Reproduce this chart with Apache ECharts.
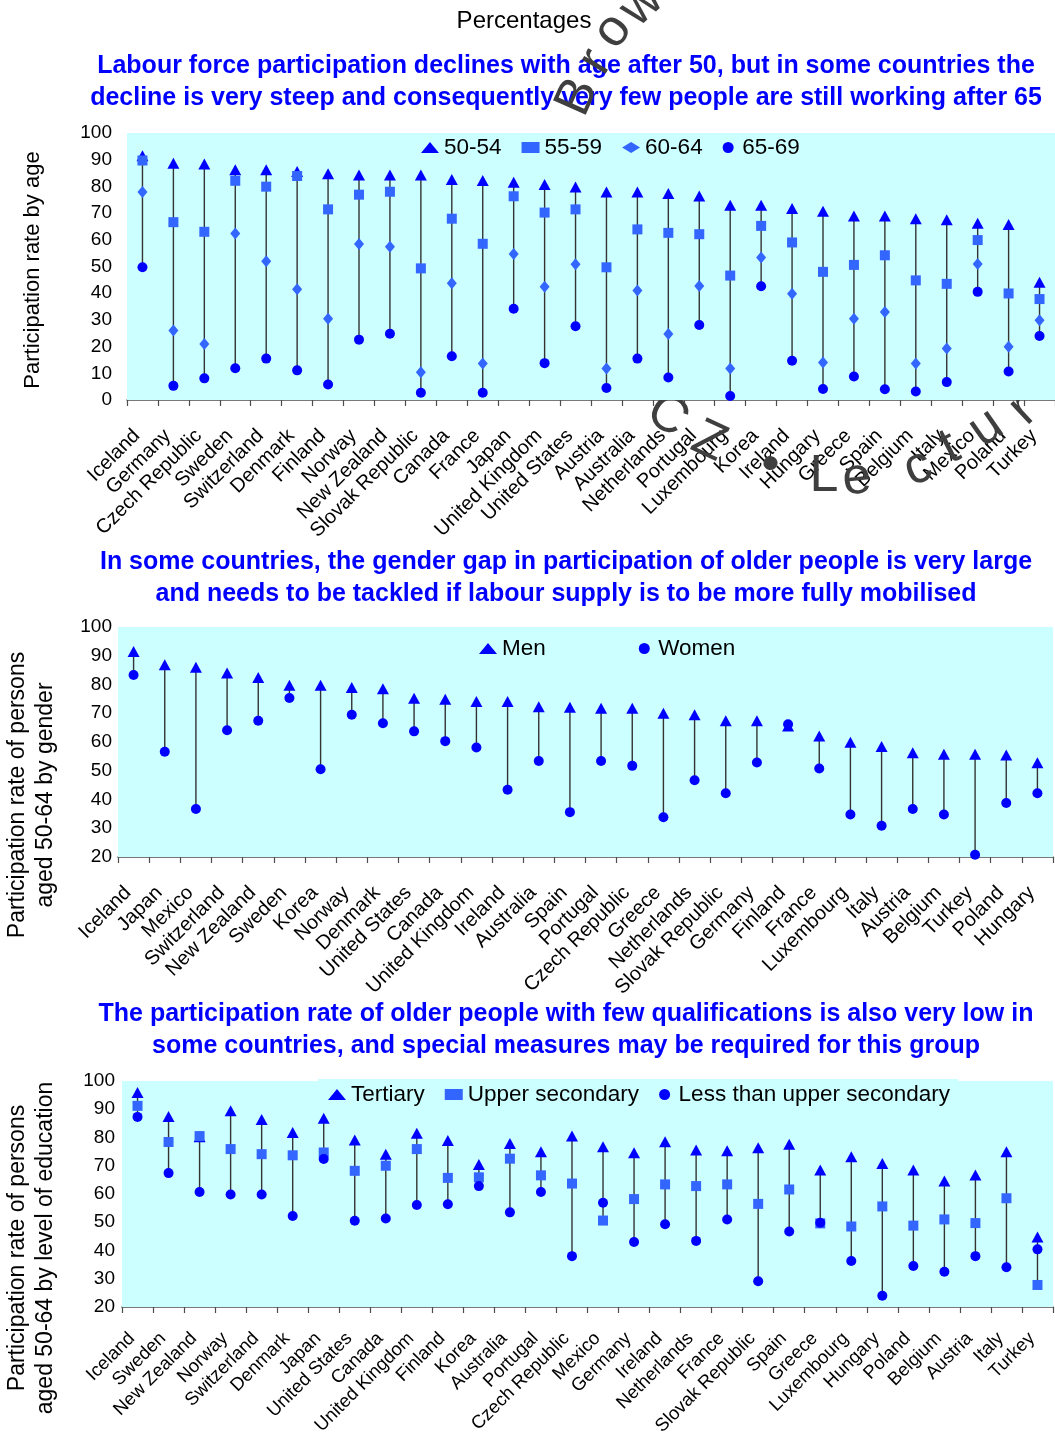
<!DOCTYPE html>
<html><head><meta charset="utf-8">
<script src="https://cdn.jsdelivr.net/npm/echarts@6/dist/echarts.min.js"></script>
<style>html,body{margin:0;padding:0;background:#fff;overflow:hidden}#c{width:1055px;height:1433px}</style>
</head><body><div id="c"></div>
<script>
// ---- Panel 1: participation by age ----
const countries1 = ['Iceland','Germany','Czech Republic','Sweden','Switzerland','Denmark','Finland','Norway','New Zealand','Slovak Republic','Canada','France','Japan','United Kingdom','United States','Austria','Australia','Netherlands','Portugal','Luxembourg','Korea','Ireland','Hungary','Greece','Spain','Belgium','Italy','Mexico','Poland','Turkey'];
const age5054 = [91.5,88.7,88.4,86.2,86.2,85.6,84.7,84.3,84.3,84.3,82.6,82.2,81.6,80.7,79.8,77.9,77.9,77.3,76.4,72.9,72.9,71.7,70.7,68.9,68.9,67.9,67.5,66.2,65.7,44.1];
const age5559 = [89.7,66.6,63.0,82.1,79.9,83.9,71.4,76.9,78.0,49.3,67.9,58.5,76.3,70.2,71.4,49.7,63.9,62.6,62.1,46.6,65.2,59.0,48.0,50.6,54.2,44.8,43.5,59.9,39.9,37.8];
const age6064 = [77.9,26.0,21.0,62.4,52.0,41.5,30.4,58.4,57.4,10.4,43.7,13.7,54.7,42.4,50.8,11.8,41.0,24.7,42.7,11.8,53.4,39.8,14.0,30.4,33.0,13.7,19.3,50.9,19.9,29.9];
const age6569 = [49.7,5.3,8.1,11.9,15.5,11.1,5.8,22.6,24.8,2.7,16.4,2.7,34.2,13.8,27.6,4.5,15.5,8.4,28.1,1.5,42.6,14.7,4.1,8.8,4.0,3.2,6.7,40.5,10.7,24.0];

// ---- Panel 2: participation 50-64 by gender ----
const countries2 = ['Iceland','Japan','Mexico','Switzerland','New Zealand','Sweden','Korea','Norway','Denmark','United States','Canada','United Kingdom','Ireland','Australia','Spain','Portugal','Czech Republic','Greece','Netherlands','Slovak Republic','Germany','Finland','France','Luxembourg','Italy','Austria','Belgium','Turkey','Poland','Hungary'];
const men = [91.5,86.9,86.0,84.0,82.4,79.7,79.7,79.0,78.5,75.2,74.9,74.1,74.1,72.3,72.1,71.7,71.7,70.0,69.5,67.4,67.4,65.6,62.1,59.9,58.4,56.3,55.7,55.7,55.5,52.8];
const women = [83.3,56.6,36.7,64.1,67.4,75.3,50.5,69.5,66.5,63.7,60.3,58.1,43.4,53.4,35.6,53.4,51.7,33.8,46.7,42.2,52.9,66.2,50.8,34.8,30.9,36.7,34.8,20.8,38.8,42.2];

// ---- Panel 3: participation 50-64 by education ----
const countries3 = ['Iceland','Sweden','New Zealand','Norway','Switzerland','Denmark','Japan','United States','Canada','United Kingdom','Finland','Korea','Australia','Portugal','Czech Republic','Mexico','Germany','Ireland','Netherlands','France','Slovak Republic','Spain','Greece','Luxembourg','Hungary','Poland','Belgium','Austria','Italy','Turkey'];
const tertiary = [95.9,87.4,80.3,89.5,86.4,81.8,86.8,79.1,74.1,81.5,78.9,70.4,77.9,75.0,80.5,76.7,74.6,78.5,75.6,75.3,76.4,77.6,68.5,73.2,70.8,68.5,64.6,66.7,75.0,44.8];
const upperSec = [91.2,78.4,80.5,75.9,74.1,73.7,74.7,68.2,70.0,75.9,65.7,65.9,72.5,66.6,63.7,50.6,58.2,63.4,62.8,63.4,56.5,61.6,49.6,48.5,55.6,48.8,51.0,49.7,58.5,27.8];
const lessUpper = [87.3,67.4,60.7,59.8,59.8,52.2,72.4,50.5,51.3,56.1,56.4,62.8,53.5,60.7,38.0,56.9,43.0,49.3,43.4,51.0,29.1,46.7,49.8,36.3,24.0,34.5,32.5,38.0,34.1,40.4];

const FONT = "'Liberation Sans', Arial, sans-serif";
const BLUE = '#0000FF', LBLUE = '#3366FF', BG = '#CCFFFF', WM = '#3f3f3f';

function rangeData(arrs) {
  return arrs[0].map((_, i) => {
    const v = arrs.map(a => a[i]);
    return [i, Math.max(...v), Math.min(...v)];
  });
}
function hiLo(idx, arrs) {
  return {
    type: 'custom', xAxisIndex: idx, yAxisIndex: idx, silent: true, z: 2,
    data: rangeData(arrs), encode: { x: 0, y: [1, 2] },
    renderItem: (params, api) => {
      const p1 = api.coord([api.value(0), api.value(1)]);
      const p2 = api.coord([api.value(0), api.value(2)]);
      return { type: 'line', shape: { x1: p1[0], y1: p1[1], x2: p2[0], y2: p2[1] },
               style: { stroke: '#333333', lineWidth: 1.4 } };
    }
  };
}
function sc(idx, name, data, symbol, size, color) {
  return { type: 'scatter', name, data, xAxisIndex: idx, yAxisIndex: idx, symbol, symbolSize: size,
           itemStyle: { color, opacity: 1 }, z: 3, silent: true };
}
function xAx(idx, cats, fs, margin) {
  return { type: 'category', gridIndex: idx, data: cats, boundaryGap: true, z: 0,
    axisLine: { lineStyle: { color: '#4d4d4d', width: 1.5 } },
    axisTick: { show: true, length: 6, lineStyle: { color: '#4d4d4d', width: 1.2 } },
    axisLabel: { rotate: 45, interval: 0, fontSize: fs, color: '#000', fontFamily: FONT, margin, padding: [0, 8, 0, 0], hideOverlap: false },
    splitLine: { show: false } };
}
function yAx(idx, min, margin) {
  return { type: 'value', gridIndex: idx, min, max: 100, interval: 10, z: 0,
    axisLine: { show: false }, axisTick: { show: false },
    axisLabel: { fontSize: 19, color: '#000', fontFamily: FONT, margin },
    splitLine: { lineStyle: { color: '#ffffff', width: 1.6 } } };
}
function txt(x, y, text, font, color, extra, lh) {
  return Object.assign({ type: 'text', x, y, silent: true, z: 0,
    style: { text, font, fill: color, textAlign: 'center', textVerticalAlign: 'middle', align: 'center', verticalAlign: 'middle', lineHeight: lh || 28 } }, extra || {});
}
// watermark letters (stamp text on a circle), drawn behind the plot areas
function wm(ch, x, y, deg) {
  return { type: 'text', x, y, rotation: deg * Math.PI / 180, silent: true, z: 1,
    style: { text: ch, font: "52px " + FONT, fill: WM, textAlign: 'center', textVerticalAlign: 'middle', align: 'center', verticalAlign: 'middle' } };
}
function grid(left, right, top, height) {
  return { left, right, top, height, show: true, backgroundColor: BG, borderWidth: 0, z: 2,
           containLabel: false, outerBoundsMode: 'none' };
}

const chart = echarts.init(document.getElementById('c'), null, { renderer: 'canvas' });
const legText = { fontSize: 22.5, color: '#000', fontFamily: FONT };
chart.setOption({
  animation: false,
  backgroundColor: '#fff',
  grid: [grid(127, 0, 133, 267), grid(118, 2, 627, 230), grid(122, 2, 1081, 226)],
  xAxis: [xAx(0, countries1, 20, 27), xAx(1, countries2, 20, 27), xAx(2, countries3, 18.5, 23)],
  yAxis: [yAx(0, 0, 15), yAx(1, 20, 6), yAx(2, 20, 7)],
  legend: [
    { data: ['50-54', '55-59', '60-64', '65-69'], left: 413, top: 134, itemGap: 20, itemWidth: 18, itemHeight: 11,
      textStyle: legText, backgroundColor: BG, padding: [2, 8, 3, 8], selectedMode: false },
    { data: ['Men', 'Women'], left: 430, top: 635, itemGap: 93, itemWidth: 18, itemHeight: 11,
      textStyle: legText, backgroundColor: BG, padding: [2, 40, 3, 49], selectedMode: false },
    { data: ['Tertiary', 'Upper secondary', 'Less than upper secondary'], left: 318, top: 1079, itemGap: 20, itemWidth: 18, itemHeight: 11,
      textStyle: legText, backgroundColor: BG, padding: [4, 8, 3, 10], selectedMode: false }
  ],
  series: [
    hiLo(0, [age5054, age5559, age6064, age6569]),
    sc(0, '50-54', age5054, 'triangle', [12, 11], BLUE),
    sc(0, '55-59', age5559, 'rect', 10, LBLUE),
    sc(0, '60-64', age6064, 'diamond', [10, 12], LBLUE),
    sc(0, '65-69', age6569, 'circle', 10, BLUE),
    hiLo(1, [men, women]),
    sc(1, 'Men', men, 'triangle', [12, 11], BLUE),
    sc(1, 'Women', women, 'circle', 10, BLUE),
    hiLo(2, [tertiary, upperSec, lessUpper]),
    sc(2, 'Tertiary', tertiary, 'triangle', [12, 11], BLUE),
    sc(2, 'Upper secondary', upperSec, 'rect', 10, LBLUE),
    sc(2, 'Less than upper secondary', lessUpper, 'circle', 10, BLUE)
  ],
  graphic: [
    txt(524, 21, 'Percentages', "24px " + FONT, '#000'),
    txt(566, 82, 'Labour force participation declines with age after 50, but in some countries the\ndecline is very steep and consequently very few people are still working after 65', "bold 25px " + FONT, BLUE, null, 32),
    txt(566, 578, 'In some countries, the gender gap in participation of older people is very large\nand needs to be tackled if labour supply is to be more fully mobilised', "bold 25px " + FONT, BLUE, null, 32),
    txt(566, 1030, 'The participation rate of older people with few qualifications is also very low in\nsome countries, and special measures may be required for this group', "bold 25px " + FONT, BLUE, null, 32),
    txt(33, 270, 'Participation rate by age', "22px " + FONT, '#000', { rotation: Math.PI / 2 }),
    txt(32, 795, 'Participation rate of persons\naged 50-64 by gender', "23px " + FONT, '#000', { rotation: Math.PI / 2 }),
    txt(32, 1248, 'Participation rate of persons\naged 50-64 by level of education', "23px " + FONT, '#000', { rotation: Math.PI / 2 }),
    wm('B', 578, 97, 66), wm('r', 596, 62, 59), wm('o', 613, 31, 52), wm('w', 642, 5, 43),
    wm('C', 667, 416, -35), wm('Z', 709, 442, -25), wm('\u2022', 770, 466, -11),
    wm('L', 824, 477, 0), wm('e', 857, 479, 6), wm('c', 918, 468, 20), wm('t', 950, 448, 27),
    wm('u', 986, 428, 35), wm('r', 1023, 410, 43), wm('e', 1053, 386, 50)
  ]
});
</script>
</body></html>
